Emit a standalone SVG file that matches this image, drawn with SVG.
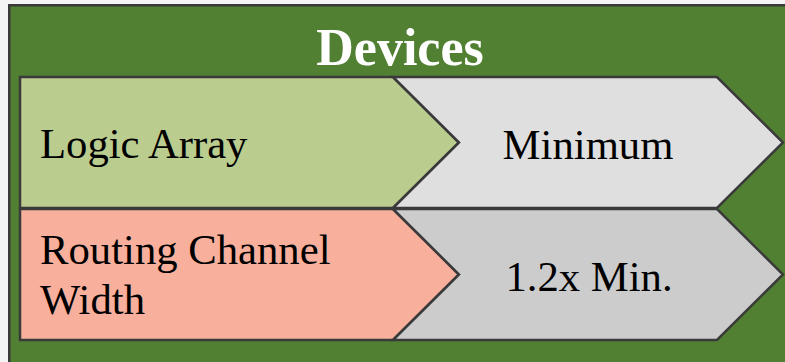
<svg xmlns="http://www.w3.org/2000/svg" width="785" height="362" viewBox="0 0 785 362">
<style>
.bd{stroke:#3a3a3a;stroke-width:2.5;stroke-linejoin:miter}
.t{font-family:"Liberation Serif","Times New Roman",serif;font-size:42.7px;fill:#000}
.h{font-family:"Liberation Serif","Times New Roman",serif;font-size:52px;font-weight:bold;fill:#fff}
</style>
<rect x="0" y="0" width="785" height="362" fill="#f4f4f4"/>
<g id="devices">
<rect x="9.25" y="5.25" width="790" height="370" fill="#528033" class="bd"/>
<text class="h" x="400" y="65" text-anchor="middle">Devices</text>
</g>
<g id="logic-array">
<polygon points="20,77 393,77 459,142.5 393,208 20,208" fill="#bacc8e" class="bd"/>
<text class="t" x="40" y="158.3">Logic Array</text>
</g>
<g id="minimum">
<polygon points="393,77 717,77 783,142.5 717,208 393,208 459,142.5" fill="#dfdfdf" class="bd"/>
<text class="t" x="588" y="159.3" text-anchor="middle">Minimum</text>
</g>
<g id="routing">
<polygon points="20,209 393,209 459,274.5 393,340 20,340" fill="#f8b09d" class="bd"/>
<text class="t" x="40" y="264.3">Routing Channel</text>
<text class="t" x="40" y="314.3">Width</text>
</g>
<g id="min12">
<polygon points="393,209 717,209 783,274.5 717,340 393,340 459,274.5" fill="#cccccc" class="bd"/>
<text class="t" x="589" y="291" text-anchor="middle">1.2x Min.</text>
</g>
<g id="connectors"></g>
</svg>
